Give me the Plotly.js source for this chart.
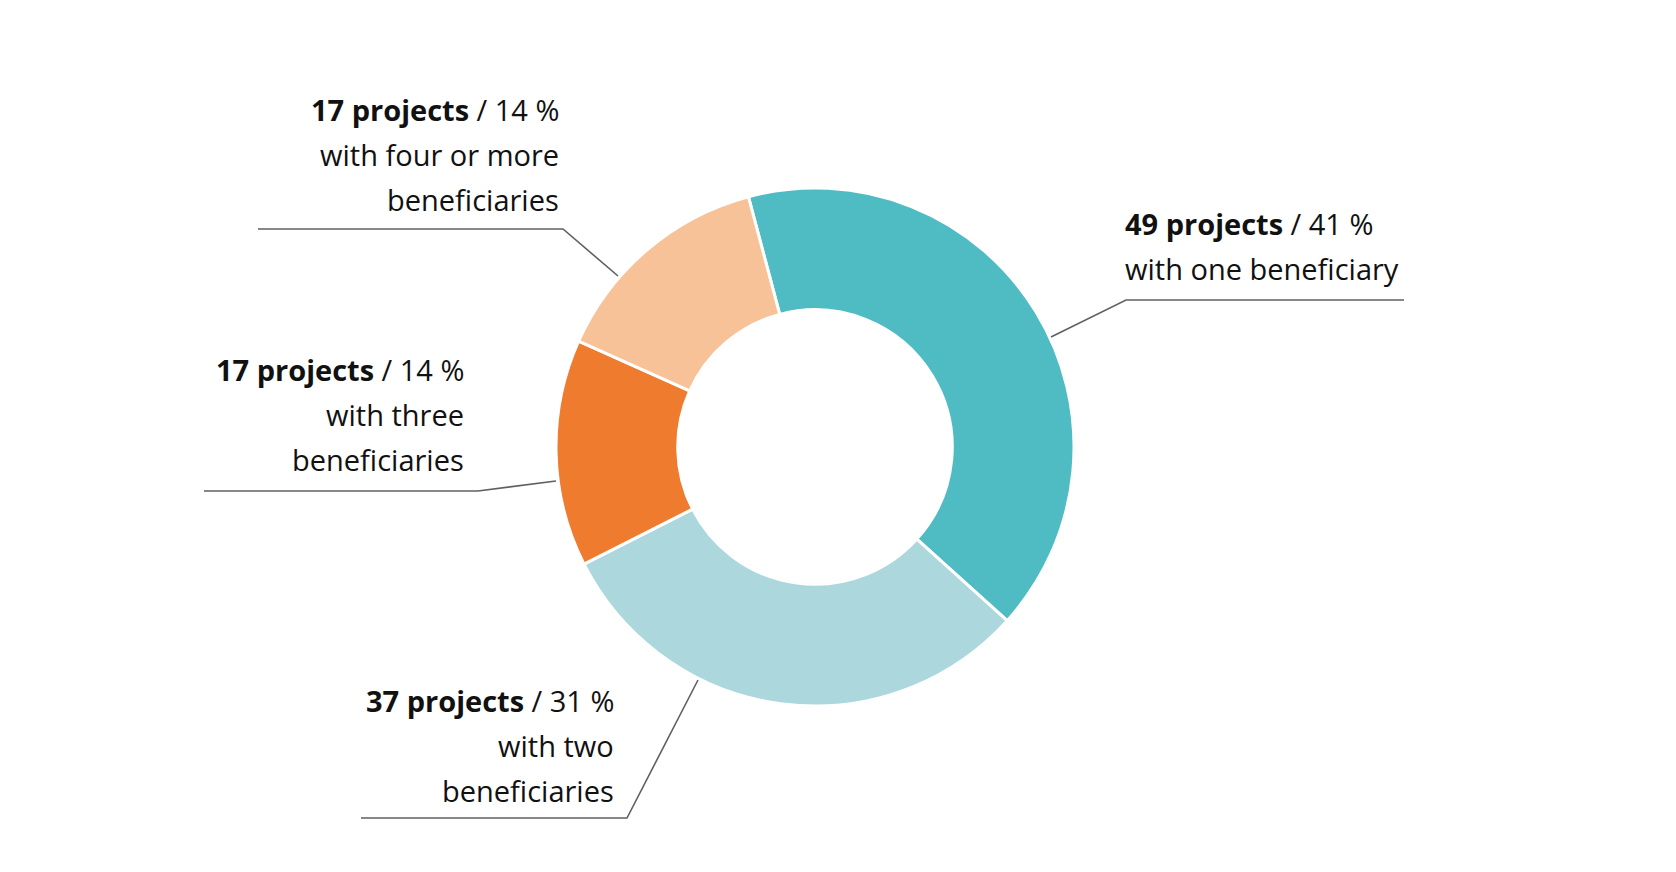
<!DOCTYPE html>
<html>
<head>
<meta charset="utf-8">
<script src="https://cdn.plot.ly/plotly-3.0.1.min.js"></script>
<style>
  html, body { margin: 0; padding: 0; background: #fff; }
  #chart { width: 1676px; height: 872px; }
</style>
</head>
<body>
<div id="chart"></div>
<script>
// slices, clockwise from the top-left
var counts = [49, 37, 17, 17];
var shares = [41, 31, 14, 14];
var descriptions = [
  ['with one beneficiary'],
  ['with two', 'beneficiaries'],
  ['with three', 'beneficiaries'],
  ['with four or more', 'beneficiaries']
];
var colors = ['#4fbcc3', '#abd7dd', '#ef7c2e', '#f8c298'];

var W = 1676, H = 872;

// label placement in pixels (text anchor x, first line centre y, alignment)
var labelPos = [
  {x: 1123, y: 223, align: 'left'},
  {x: 616, y: 700, align: 'right'},
  {x: 466, y: 369, align: 'right'},
  {x: 561, y: 109, align: 'right'}
];
// leader lines in pixels
var leaders = [
  [[1051, 337], [1126, 300], [1404, 300]],
  [[698, 680], [627, 818], [361, 818]],
  [[556, 481], [478, 491], [204, 491]],
  [[618, 276], [563, 229], [258, 229]]
];

function px(x) { return x / W; }
function py(y) { return 1 - y / H; }

var R = 259;
var trace = {
  type: 'pie',
  values: counts,
  labels: descriptions.map(function (d) { return d.join(' '); }),
  hole: 0.53,
  sort: false,
  direction: 'clockwise',
  rotation: -14.9,
  textinfo: 'none',
  hoverinfo: 'label+value+percent',
  marker: {
    colors: colors,
    line: {color: '#ffffff', width: 3}
  },
  domain: {
    x: [px(815 - R), px(815 + R)],
    y: [py(447 + R), py(447 - R)]
  }
};

var font = 'Open Sans, Noto Sans, sans-serif';
var annotations = [];
var shapes = [];

for (var i = 0; i < counts.length; i++) {
  var p = labelPos[i];
  var lines = ['<b>' + counts[i] + ' projects</b> / ' + shares[i] + ' %'].concat(descriptions[i]);
  for (var j = 0; j < lines.length; j++) {
    annotations.push({
      xref: 'paper',
      yref: 'paper',
      x: px(p.x),
      y: py(p.y + j * 45),
      xanchor: p.align,
      yanchor: 'middle',
      align: p.align,
      text: lines[j],
      showarrow: false,
      font: {family: font, size: 29, color: '#111111'}
    });
  }
  var path = leaders[i].map(function (pt, k) {
    return (k === 0 ? 'M ' : 'L ') + px(pt[0]) + ' ' + py(pt[1]);
  }).join(' ');
  shapes.push({
    type: 'path',
    xref: 'paper',
    yref: 'paper',
    path: path,
    line: {color: '#606060', width: 1.6}
  });
}

var layout = {
  width: W,
  height: H,
  margin: {l: 0, r: 0, t: 0, b: 0},
  showlegend: false,
  paper_bgcolor: '#ffffff',
  annotations: annotations,
  shapes: shapes
};

Plotly.newPlot('chart', [trace], layout, {displayModeBar: false, staticPlot: true});
</script>
</body>
</html>
